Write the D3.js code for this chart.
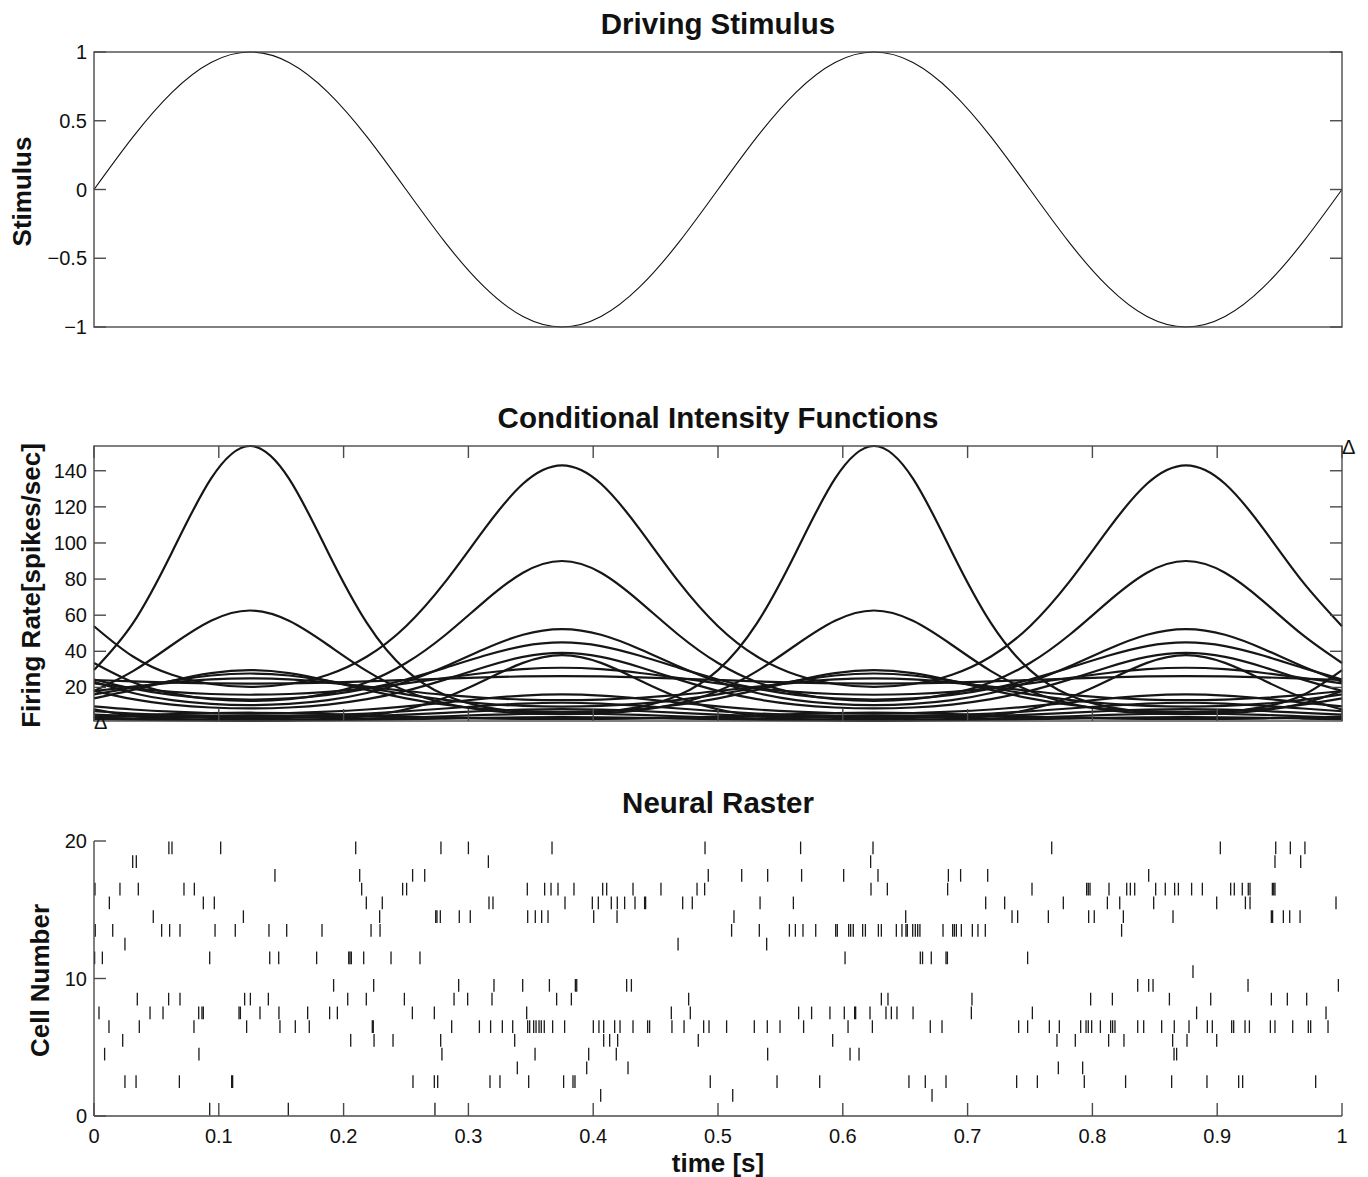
<!DOCTYPE html>
<html>
<head>
<meta charset="utf-8">
<script src="https://cdn.jsdelivr.net/npm/d3@7"></script>
<style>
  body { margin: 0; background: #fff; }
  text { font-family: "Liberation Sans", Arial, Helvetica, sans-serif; fill: #111; }
</style>
</head>
<body>
<div id="chart"></div>
<script>
// ---- data ----

// driving stimulus, sampled every 1/32 s
var stimTimes = [0, 0.03125, 0.0625, 0.09375, 0.125, 0.15625, 0.1875, 0.21875, 0.25,
  0.28125, 0.3125, 0.34375, 0.375, 0.40625, 0.4375, 0.46875, 0.5,
  0.53125, 0.5625, 0.59375, 0.625, 0.65625, 0.6875, 0.71875, 0.75,
  0.78125, 0.8125, 0.84375, 0.875, 0.90625, 0.9375, 0.96875, 1];
var stimValues = [0, 0.383, 0.707, 0.924, 1, 0.924, 0.707, 0.383, 0,
  -0.383, -0.707, -0.924, -1, -0.924, -0.707, -0.383, 0,
  0.383, 0.707, 0.924, 1, 0.924, 0.707, 0.383, 0,
  -0.383, -0.707, -0.924, -1, -0.924, -0.707, -0.383, 0];
var stimTicks = [-1, -0.5, 0, 0.5, 1];

// conditional intensity of each cell [spikes/sec], same time samples as the stimulus
var cifRates = [
  [29.6,55.6,94.9,135.6,153.7,135.6,94.9,55.6,29.6,15.75,9.24,6.46,5.7,6.46,9.24,15.75,29.6,55.6,94.9,135.6,153.7,135.6,94.9,55.6,29.6,15.75,9.24,6.46,5.7,6.46,9.24,15.75,29.6],
  [18.0,29.0,43.5,56.9,62.6,56.9,43.5,29.0,18.0,11.17,7.46,5.69,5.18,5.69,7.46,11.17,18.0,29.0,43.5,56.9,62.6,56.9,43.5,29.0,18.0,11.17,7.46,5.69,5.18,5.69,7.46,11.17,18.0],
  [13.9,18.6,23.7,27.95,29.6,27.95,23.7,18.6,13.9,10.4,8.15,6.91,6.53,6.91,8.15,10.4,13.9,18.6,23.7,27.95,29.6,27.95,23.7,18.6,13.9,10.4,8.15,6.91,6.53,6.91,8.15,10.4,13.9],
  [16.1,19.8,23.6,26.6,27.7,26.6,23.6,19.8,16.1,13.08,10.97,9.75,9.36,9.75,10.97,13.08,16.1,19.8,23.6,26.6,27.7,26.6,23.6,19.8,16.1,13.08,10.97,9.75,9.36,9.75,10.97,13.08,16.1],
  [18.0,20.4,22.7,24.4,25.0,24.4,22.7,20.4,18.0,15.87,14.27,13.29,12.96,13.29,14.27,15.87,18.0,20.4,22.7,24.4,25.0,24.4,22.7,20.4,18.0,15.87,14.27,13.29,12.96,13.29,14.27,15.87,18.0],
  [3.9,4.6,5.29,5.81,6.0,5.81,5.29,4.6,3.9,3.31,2.88,2.62,2.54,2.62,2.88,3.31,3.9,4.6,5.29,5.81,6.0,5.81,5.29,4.6,3.9,3.31,2.88,2.62,2.54,2.62,2.88,3.31,3.9],
  [3.55,3.89,4.2,4.42,4.5,4.42,4.2,3.89,3.55,3.24,3.0,2.85,2.8,2.85,3.0,3.24,3.55,3.89,4.2,4.42,4.5,4.42,4.2,3.89,3.55,3.24,3.0,2.85,2.8,2.85,3.0,3.24,3.55],
  [53.9,37.1,27.0,21.9,20.3,21.9,27.0,37.1,53.9,78.3,107.4,132.8,143,132.8,107.4,78.3,53.9,37.1,27.0,21.9,20.3,21.9,27.0,37.1,53.9,78.3,107.4,132.8,143,132.8,107.4,78.3,53.9],
  [33.5,22.9,16.66,13.44,12.47,13.44,16.66,22.9,33.5,48.9,67.4,83.5,90,83.5,67.4,48.9,33.5,22.9,16.66,13.44,12.47,13.44,16.66,22.9,33.5,48.9,67.4,83.5,90,83.5,67.4,48.9,33.5],
  [23.1,16.9,12.96,10.86,10.2,10.86,12.96,16.9,23.1,31.6,41.2,49.2,52.3,49.2,41.2,31.6,23.1,16.9,12.96,10.86,10.2,10.86,12.96,16.9,23.1,31.6,41.2,49.2,52.3,49.2,41.2,31.6,23.1],
  [24.4,19.3,15.86,13.89,13.26,13.89,15.86,19.3,24.4,30.8,37.5,42.9,44.9,42.9,37.5,30.8,24.4,19.3,15.86,13.89,13.26,13.89,15.86,19.3,24.4,30.8,37.5,42.9,44.9,42.9,37.5,30.8,24.4],
  [18.1,13.48,10.5,8.88,8.38,8.88,10.5,13.48,18.1,24.3,31.2,36.9,39.1,36.9,31.2,24.3,18.1,13.48,10.5,8.88,8.38,8.88,10.5,13.48,18.1,24.3,31.2,36.9,39.1,36.9,31.2,24.3,18.1],
  [7.8,4.26,2.55,1.81,1.6,1.81,2.55,4.26,7.8,14.3,23.85,33.6,37.9,33.6,23.85,14.3,7.8,4.26,2.55,1.81,1.6,1.81,2.55,4.26,7.8,14.3,23.85,33.6,37.9,33.6,23.85,14.3,7.8],
  [22.2,19.56,17.58,16.36,15.95,16.36,17.58,19.56,22.2,25.2,28.0,30.1,30.9,30.1,28.0,25.2,22.2,19.56,17.58,16.36,15.95,16.36,17.58,19.56,22.2,25.2,28.0,30.1,30.9,30.1,28.0,25.2,22.2],
  [24.1,23.3,22.65,22.2,22.1,22.2,22.65,23.3,24.1,24.9,25.6,26.1,26.3,26.1,25.6,24.9,24.1,23.3,22.65,22.2,22.1,22.2,22.65,23.3,24.1,24.9,25.6,26.1,26.3,26.1,25.6,24.9,24.1],
  [9.5,7.76,6.54,5.84,5.61,5.84,6.54,7.76,9.5,11.6,13.8,15.5,16.1,15.5,13.8,11.6,9.5,7.76,6.54,5.84,5.61,5.84,6.54,7.76,9.5,11.6,13.8,15.5,16.1,15.5,13.8,11.6,9.5],
  [6.8,5.56,4.69,4.18,4.02,4.18,4.69,5.56,6.8,8.32,9.86,11.05,11.5,11.05,9.86,8.32,6.8,5.56,4.69,4.18,4.02,4.18,4.69,5.56,6.8,8.32,9.86,11.05,11.5,11.05,9.86,8.32,6.8],
  [4.9,4.06,3.47,3.12,3.0,3.12,3.47,4.06,4.9,5.91,6.93,7.71,8.0,7.71,6.93,5.91,4.9,4.06,3.47,3.12,3.0,3.12,3.47,4.06,4.9,5.91,6.93,7.71,8.0,7.71,6.93,5.91,4.9],
  [3.3,2.71,2.3,2.06,1.98,2.06,2.3,2.71,3.3,4.01,4.74,5.29,5.5,5.29,4.74,4.01,3.3,2.71,2.3,2.06,1.98,2.06,2.3,2.71,3.3,4.01,4.74,5.29,5.5,5.29,4.74,4.01,3.3],
  [2.4,2.08,1.84,1.69,1.65,1.69,1.84,2.08,2.4,2.77,3.13,3.4,3.5,3.4,3.13,2.77,2.4,2.08,1.84,1.69,1.65,1.69,1.84,2.08,2.4,2.77,3.13,3.4,3.5,3.4,3.13,2.77,2.4]
];
var rateLimits = [1.4, 153.7];
var rateTicks = [20, 40, 60, 80, 100, 120, 140];

// spike times [s] of cells 1..20
var spikeTimes = [
  [0.0927, 0.1557, 0.2732],
  [0.406, 0.5118, 0.6715],
  [0.0248, 0.0337, 0.0684, 0.1103, 0.1111, 0.2556, 0.2727, 0.2754, 0.3173, 0.3253, 0.3483, 0.3763, 0.3838, 0.3854,
   0.4938, 0.5473, 0.5815, 0.653, 0.6661, 0.6827, 0.7393, 0.7559, 0.7935, 0.8266, 0.8635, 0.8918, 0.9172, 0.9204, 0.9789],
  [0.3392, 0.3948, 0.4279, 0.7727, 0.7922],
  [0.0085, 0.0841, 0.2788, 0.3534, 0.3964, 0.4185, 0.5398, 0.6058, 0.613, 0.8654, 0.8675],
  [0.023, 0.2057, 0.2244, 0.2396, 0.2778, 0.3371, 0.4084, 0.4132, 0.4196, 0.4842, 0.5919, 0.7716, 0.7863, 0.813,
   0.8253, 0.8643, 0.8758, 0.8996],
  [0.012, 0.0363, 0.0801, 0.1223, 0.149, 0.1613, 0.1725, 0.223, 0.2238, 0.2866, 0.3088, 0.3178, 0.3272, 0.3355,
   0.3475, 0.3491, 0.3523, 0.3542, 0.3566, 0.3584, 0.3608, 0.3675, 0.3771, 0.4001, 0.4046, 0.4084, 0.4172, 0.4215,
   0.4319, 0.4436, 0.4452, 0.4631, 0.4728, 0.4885, 0.4928, 0.5069, 0.5291, 0.5395, 0.5497, 0.5686, 0.6042, 0.6237,
   0.6701, 0.6795, 0.7409, 0.7481, 0.7655, 0.7735, 0.7906, 0.7949, 0.7967, 0.7994, 0.8064, 0.8146, 0.8162, 0.8181,
   0.8363, 0.8411, 0.8555, 0.8656, 0.8774, 0.8921, 0.8961, 0.9116, 0.9132, 0.9223, 0.9258, 0.9426, 0.9463, 0.9605,
   0.973, 0.9749, 0.9888],
  [0.004, 0.0449, 0.0553, 0.0839, 0.0865, 0.0876, 0.1162, 0.1173, 0.133, 0.1482, 0.1712, 0.1888, 0.195, 0.2551,
   0.2727, 0.3467, 0.4626, 0.4778, 0.5646, 0.575, 0.5897, 0.6012, 0.6095, 0.6103, 0.6218, 0.6346, 0.6389, 0.6434,
   0.6563, 0.703, 0.7519, 0.8835, 0.9872],
  [0.0347, 0.0598, 0.0689, 0.1207, 0.1253, 0.1397, 0.2033, 0.2182, 0.2487, 0.2885, 0.2994, 0.3189, 0.3707, 0.3825,
   0.4765, 0.6309, 0.6362, 0.7035, 0.7986, 0.816, 0.8617, 0.8948, 0.9434, 0.9562, 0.9717],
  [0.192, 0.2241, 0.2922, 0.3205, 0.3435, 0.3649, 0.3857, 0.3868, 0.4268, 0.4306, 0.8363, 0.8451, 0.8486, 0.9247, 0.9971],
  [0.8806],
  [0.0005, 0.0067, 0.0927, 0.1408, 0.148, 0.1784, 0.2041, 0.2051, 0.2062, 0.2161, 0.238, 0.2612, 0.6018, 0.6621,
   0.6639, 0.6709, 0.6827, 0.6838, 0.7481],
  [0.0248, 0.468, 0.539],
  [0.001, 0.015, 0.0542, 0.0606, 0.0689, 0.097, 0.1132, 0.1402, 0.1544, 0.1827, 0.222, 0.2292, 0.5109, 0.5331,
   0.5572, 0.562, 0.5681, 0.5783, 0.5943, 0.5956, 0.6047, 0.6063, 0.6084, 0.6159, 0.6181, 0.6285, 0.6309, 0.6429,
   0.6474, 0.6506, 0.6517, 0.656, 0.6581, 0.66, 0.6618, 0.6803, 0.688, 0.6894, 0.691, 0.695, 0.7038, 0.7083,
   0.7142, 0.8234],
  [0.0475, 0.1197, 0.2289, 0.2738, 0.2748, 0.2775, 0.2927, 0.3015, 0.3475, 0.3536, 0.3587, 0.3638, 0.4004, 0.4191,
   0.5128, 0.6504, 0.7356, 0.7401, 0.7647, 0.797, 0.8015, 0.8248, 0.8646, 0.9434, 0.9444, 0.953, 0.9581, 0.9664],
  [0.0123, 0.0876, 0.0964, 0.2182, 0.231, 0.3165, 0.3197, 0.3774, 0.3993, 0.4041, 0.4145, 0.4193, 0.4252, 0.4335,
   0.4412, 0.442, 0.4717, 0.4794, 0.5337, 0.5604, 0.7145, 0.7297, 0.7767, 0.812, 0.8219, 0.8491, 0.8996, 0.9226,
   0.9263, 0.9952],
  [0.0008, 0.0208, 0.0355, 0.0721, 0.0804, 0.2145, 0.2473, 0.2505, 0.3472, 0.3611, 0.3662, 0.3718, 0.3846, 0.4076,
   0.4108, 0.4319, 0.4543, 0.4832, 0.4893, 0.6226, 0.6357, 0.684, 0.7516, 0.7954, 0.7967, 0.7981, 0.8133, 0.8275,
   0.8304, 0.8339, 0.8507, 0.8584, 0.8659, 0.8689, 0.8795, 0.8881, 0.9108, 0.9137, 0.9201, 0.9249, 0.9263, 0.9442,
   0.9453, 0.9463],
  [0.145, 0.2129, 0.2553, 0.265, 0.4922, 0.519, 0.5398, 0.567, 0.6007, 0.6282, 0.6846, 0.6944, 0.7161, 0.8451],
  [0.031, 0.0339, 0.316, 0.6223, 0.9463, 0.9669],
  [0.060, 0.0625, 0.1015, 0.2097, 0.278, 0.300, 0.367, 0.4896, 0.5662, 0.6242, 0.7674, 0.9025, 0.9469, 0.9586, 0.9703]
];
var cellTicks = [0, 10, 20];
var timeTicks = [0, 0.1, 0.2, 0.3, 0.4, 0.5, 0.6, 0.7, 0.8, 0.9, 1];
var titles = ["Driving Stimulus", "Conditional Intensity Functions", "Neural Raster"];
var yLabels = ["Stimulus", "Firing Rate[spikes/sec]", "Cell Number"];

// ---- layout ----
var W = 1368, H = 1177;
var left = 94, right = 1342;
var tops = [52, 446, 841], ph = 275;
var titleGap = [28, 28, 38];
var labelX = [22, 31, 40];
var axisColor = "#4a4a4a";
var tickFont = "20px", labelFont = "26px", titleFont = "29.5px";

var svg = d3.select("#chart").append("svg")
  .attr("width", W).attr("height", H);

var x = d3.scaleLinear().domain([0, 1]).range([left, right]);

function boxFrame(g, y0) {
  g.append("rect")
    .attr("x", left).attr("y", y0)
    .attr("width", right - left).attr("height", ph)
    .attr("fill", "none").attr("stroke", axisColor).attr("stroke-width", 1.4);
}

function yTicks(g, y, ticks, fmt, both) {
  var tl = 12;
  ticks.forEach(function(v) {
    g.append("line").attr("x1", left).attr("x2", left + tl)
      .attr("y1", y(v)).attr("y2", y(v))
      .attr("stroke", axisColor).attr("stroke-width", 1.4);
    if (both) {
      g.append("line").attr("x1", right).attr("x2", right - tl)
        .attr("y1", y(v)).attr("y2", y(v))
        .attr("stroke", axisColor).attr("stroke-width", 1.4);
    }
    g.append("text").attr("x", left - 7).attr("y", y(v))
      .attr("text-anchor", "end").attr("dy", "0.35em")
      .style("font-size", tickFont).text(fmt(v));
  });
}

function xTicks(g, y0, both) {
  var tl = 12;
  timeTicks.forEach(function(v) {
    g.append("line").attr("x1", x(v)).attr("x2", x(v))
      .attr("y1", y0 + ph).attr("y2", y0 + ph - tl)
      .attr("stroke", axisColor).attr("stroke-width", 1.4);
    if (both) {
      g.append("line").attr("x1", x(v)).attr("x2", x(v))
        .attr("y1", y0).attr("y2", y0 + tl)
        .attr("stroke", axisColor).attr("stroke-width", 1.4);
    }
  });
}

function titleAndLabel(i) {
  svg.append("text").attr("x", (left + right) / 2).attr("y", tops[i] - titleGap[i])
    .attr("text-anchor", "middle").attr("dy", "0.35em")
    .style("font-size", titleFont).style("font-weight", "bold").text(titles[i]);
  svg.append("text")
    .attr("transform", "translate(" + labelX[i] + "," + (tops[i] + ph / 2 + 2) + ") rotate(-90)")
    .attr("text-anchor", "middle").attr("dy", "0.35em")
    .style("font-size", labelFont).style("font-weight", "bold").text(yLabels[i]);
}

var minus = function(v) { return String(v).replace("-", "\u2212"); };

// ---- panel 1: stimulus ----
var g1 = svg.append("g");
var y1 = d3.scaleLinear().domain([-1, 1]).range([tops[0] + ph, tops[0]]);
var stimLine = d3.line()
  .x(function(d, i) { return x(stimTimes[i]); })
  .y(function(d) { return y1(d); })
  .curve(d3.curveNatural);
g1.append("path").datum(stimValues).attr("d", stimLine)
  .attr("fill", "none").attr("stroke", "#111").attr("stroke-width", 1.1);
boxFrame(g1, tops[0]);
yTicks(g1, y1, stimTicks, minus, true);
titleAndLabel(0);

// ---- panel 2: conditional intensities ----
var g2 = svg.append("g");
var y2 = d3.scaleLinear().domain(rateLimits).range([tops[1] + ph, tops[1]]);
var cifLine = d3.line()
  .x(function(d, i) { return x(stimTimes[i]); })
  .y(function(d) { return y2(d); })
  .curve(d3.curveNatural);
g2.selectAll("path.cif").data(cifRates).enter().append("path")
  .attr("class", "cif").attr("d", cifLine)
  .attr("fill", "none").attr("stroke", "#161616").attr("stroke-width", 2.2);
boxFrame(g2, tops[1]);
yTicks(g2, y2, rateTicks, String, true);
xTicks(g2, tops[1], true);
// min / max markers
[[0, rateLimits[0]], [1, rateLimits[1]]].forEach(function(p) {
  g2.append("text").attr("x", x(p[0])).attr("y", y2(p[1]) + 1)
    .attr("dy", "0.35em").style("font-size", "20px").text("\u0394");
});
titleAndLabel(1);

// ---- panel 3: raster ----
var g3 = svg.append("g");
var y3 = d3.scaleLinear().domain([0, 20]).range([tops[2] + ph, tops[2]]);
spikeTimes.forEach(function(times, c) {
  g3.selectAll("line.c" + c).data(times).enter().append("line")
    .attr("x1", function(d) { return x(d); }).attr("x2", function(d) { return x(d); })
    .attr("y1", y3(c + 0.04)).attr("y2", y3(c + 0.96))
    .attr("stroke", "#1a1a1a").attr("stroke-width", 1.3);
});
g3.append("line").attr("x1", left).attr("x2", left)
  .attr("y1", tops[2]).attr("y2", tops[2] + ph)
  .attr("stroke", axisColor).attr("stroke-width", 1.4);
g3.append("line").attr("x1", left).attr("x2", right)
  .attr("y1", tops[2] + ph).attr("y2", tops[2] + ph)
  .attr("stroke", axisColor).attr("stroke-width", 1.4);
cellTicks.forEach(function(v) {
  g3.append("line").attr("x1", left).attr("x2", left + 12)
    .attr("y1", y3(v)).attr("y2", y3(v))
    .attr("stroke", axisColor).attr("stroke-width", 1.4);
  g3.append("text").attr("x", left - 7).attr("y", y3(v))
    .attr("text-anchor", "end").attr("dy", "0.35em")
    .style("font-size", tickFont).text(v);
});
timeTicks.forEach(function(v) {
  g3.append("line").attr("x1", x(v)).attr("x2", x(v))
    .attr("y1", tops[2] + ph).attr("y2", tops[2] + ph - 13)
    .attr("stroke", axisColor).attr("stroke-width", 1.4);
  g3.append("text").attr("x", x(v)).attr("y", tops[2] + ph + 20)
    .attr("text-anchor", "middle").attr("dy", "0.35em")
    .style("font-size", tickFont).text(v);
});
svg.append("text").attr("x", (left + right) / 2).attr("y", tops[2] + ph + 47)
  .attr("text-anchor", "middle").attr("dy", "0.35em")
  .style("font-size", labelFont).style("font-weight", "bold").text("time [s]");
titleAndLabel(2);
</script>
</body>
</html>
